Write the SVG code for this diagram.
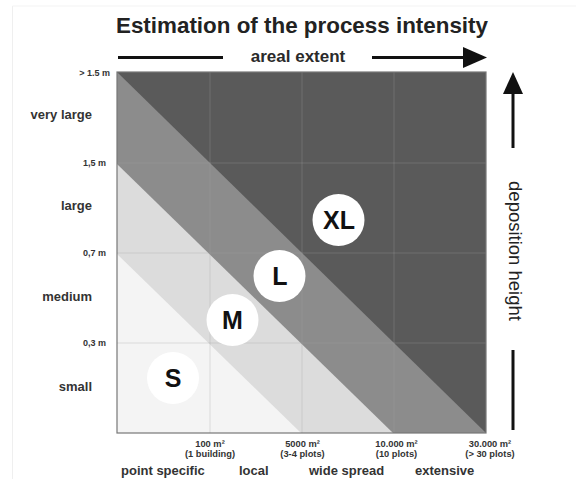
<svg xmlns="http://www.w3.org/2000/svg" width="576" height="479" viewBox="0 0 576 479">
<style>
text{font-family:"Liberation Sans",Arial,sans-serif;}
.t{font-weight:bold;fill:#222;}
.ax{font-weight:bold;fill:#2a2a2a;}
.cat{font-size:13px;font-weight:bold;fill:#333;}
.tick{font-size:9px;font-weight:bold;fill:#333;}
.bt{font-size:9.3px;font-weight:bold;fill:#333;text-anchor:middle;}
.grid{stroke:#a0a0a0;stroke-opacity:0.3;stroke-width:1;fill:none;}
.circ{fill:#fff;}
.lbl{font-size:25px;font-weight:bold;fill:#111;text-anchor:middle;}
.arr{stroke:#111;stroke-width:3;fill:none;}
</style>
<rect width="576" height="479" fill="#fff"/>
<line x1="12.5" y1="6" x2="12.5" y2="479" stroke="#efefef" stroke-width="1"/>
<line x1="12.5" y1="6" x2="576" y2="6" stroke="#f3f3f3" stroke-width="1"/>

<text class="t" x="302" y="33" font-size="22.4" text-anchor="middle">Estimation of the process intensity</text>

<g id="areal-extent-axis">
<line class="arr" x1="118" y1="57.5" x2="223" y2="57.5"/>
<line class="arr" x1="372" y1="57.5" x2="466" y2="57.5"/>
<polygon points="487,57.5 463,47 463,68" fill="#111"/>
<text class="ax" x="298" y="62" font-size="17" text-anchor="middle">areal extent</text>
</g>

<g id="deposition-axis">
<line class="arr" x1="513" y1="93" x2="513" y2="148"/>
<polygon points="513,72 503,94 523,94" fill="#111"/>
<line class="arr" x1="513" y1="350" x2="513" y2="430"/>
<text transform="translate(509,251) rotate(90)" x="0" y="0" font-size="18.5" fill="#222" text-anchor="middle">deposition height</text>
</g>

<g id="plot">
<rect x="117" y="72" width="369" height="361" fill="#5a5a5a"/>
<polygon points="117,72 486,433 117,433" fill="#8c8c8c"/>
<polygon points="117,164 393,433 117,433" fill="#dcdcdc"/>
<polygon points="117,254 301,433 117,433" fill="#f4f4f4"/>
<g class="grid">
<line x1="210" y1="72" x2="210" y2="433"/>
<line x1="302" y1="72" x2="302" y2="433"/>
<line x1="394" y1="72" x2="394" y2="433"/>
<line x1="117" y1="163" x2="486" y2="163"/>
<line x1="117" y1="253" x2="486" y2="253"/>
<line x1="117" y1="343" x2="486" y2="343"/>
</g>
<rect x="117" y="72" width="369" height="361" fill="none" stroke="#777" stroke-width="1.2"/>
</g>

<g id="node-S"><circle class="circ" cx="173" cy="378" r="26"/><text class="lbl" x="173" y="387">S</text></g>
<g id="node-M"><circle class="circ" cx="232.5" cy="320" r="26"/><text class="lbl" x="232.5" y="329">M</text></g>
<g id="node-L"><circle class="circ" cx="279.5" cy="276" r="26"/><text class="lbl" x="280" y="285">L</text></g>
<g id="node-XL"><circle class="circ" cx="338.5" cy="220" r="26"/><text class="lbl" x="339" y="229">XL</text></g>

<g id="left-labels">
<text class="tick" x="110" y="76" text-anchor="end">&gt; 1.5 m</text>
<text class="tick" x="106" y="166" text-anchor="end">1,5 m</text>
<text class="tick" x="106" y="256" text-anchor="end">0,7 m</text>
<text class="tick" x="106" y="346" text-anchor="end">0,3 m</text>
<text class="cat" x="92" y="119" text-anchor="end">very large</text>
<text class="cat" x="92" y="210" text-anchor="end">large</text>
<text class="cat" x="92" y="301" text-anchor="end">medium</text>
<text class="cat" x="92" y="391" text-anchor="end">small</text>
</g>

<g id="bottom-labels">
<text class="bt" x="210" y="447">100 m²</text>
<text class="bt" x="210" y="457">(1 building)</text>
<text class="bt" x="302.5" y="447">5000 m²</text>
<text class="bt" x="302.5" y="457">(3-4 plots)</text>
<text class="bt" x="396.5" y="447">10.000 m²</text>
<text class="bt" x="396.5" y="457">(10 plots)</text>
<text class="bt" x="490" y="447">30.000 m²</text>
<text class="bt" x="490" y="457">(&gt; 30 plots)</text>
<text class="cat" x="121" y="475">point specific</text>
<text class="cat" x="239" y="475">local</text>
<text class="cat" x="309" y="475">wide spread</text>
<text class="cat" x="415" y="475">extensive</text>
</g>
</svg>
